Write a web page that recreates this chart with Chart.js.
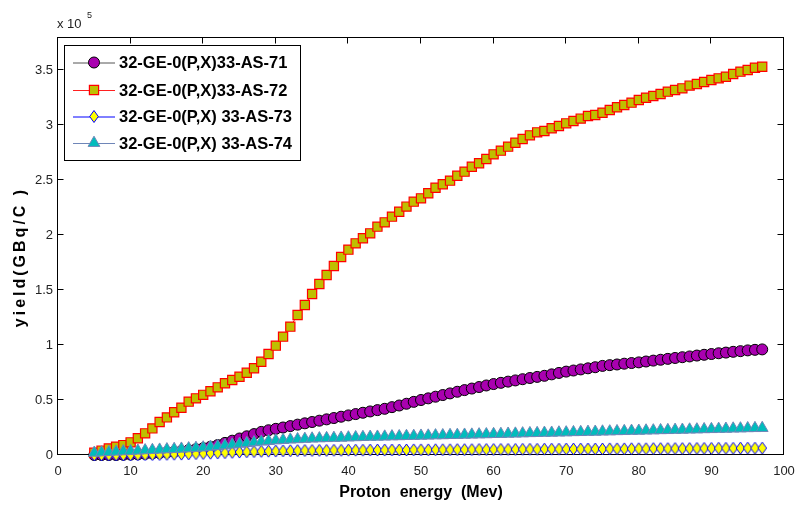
<!DOCTYPE html>
<html><head><meta charset="utf-8">
<script src="https://cdn.jsdelivr.net/npm/chart.js@4"></script>
<style>html,body{margin:0;padding:0;background:#fff;}#wrap{width:798px;height:507px;}</style>
</head><body><div id="wrap"><canvas id="c" width="798" height="507"></canvas></div>
<script>
// Proton energy (MeV)
const energy = [5,6,7,8,9,10,11,12,13,14,15,16,17,18,19,20,21,22,23,24,25,26,27,28,29,30,31,32,33,34,35,36,37,38,39,40,41,42,43,44,45,46,47,48,49,50,51,52,53,54,55,56,57,58,59,60,61,62,63,64,65,66,67,68,69,70,71,72,73,74,75,76,77,78,79,80,81,82,83,84,85,86,87,88,89,90,91,92,93,94,95,96,97];
// yield, in units of 10^5 GBq/C
const as71 = [0,0,0,0,0.002,0.004,0.006,0.01,0.014,0.018,0.024,0.03,0.037,0.045,0.053,0.062,0.075,0.09,0.11,0.13,0.15,0.17,0.19,0.21,0.225,0.238,0.25,0.263,0.276,0.288,0.30,0.312,0.324,0.336,0.348,0.36,0.372,0.384,0.396,0.408,0.42,0.435,0.45,0.466,0.483,0.50,0.515,0.53,0.545,0.56,0.575,0.59,0.604,0.618,0.632,0.645,0.656,0.667,0.678,0.689,0.70,0.71,0.72,0.733,0.746,0.758,0.768,0.778,0.788,0.798,0.81,0.817,0.823,0.83,0.836,0.842,0.85,0.858,0.866,0.874,0.882,0.889,0.896,0.904,0.911,0.918,0.925,0.931,0.938,0.944,0.951,0.956,0.96];
const as72 = [0.02,0.04,0.06,0.076,0.09,0.115,0.152,0.197,0.242,0.30,0.342,0.388,0.43,0.485,0.515,0.547,0.58,0.615,0.652,0.682,0.712,0.748,0.788,0.848,0.918,0.994,1.076,1.167,1.273,1.364,1.464,1.555,1.636,1.718,1.80,1.867,1.924,1.97,2.015,2.076,2.115,2.167,2.212,2.258,2.303,2.333,2.379,2.43,2.461,2.494,2.539,2.576,2.621,2.652,2.691,2.733,2.767,2.803,2.839,2.873,2.906,2.933,2.945,2.97,2.991,3.015,3.036,3.058,3.082,3.091,3.112,3.136,3.161,3.182,3.203,3.227,3.248,3.264,3.282,3.303,3.318,3.333,3.358,3.373,3.391,3.409,3.424,3.439,3.464,3.485,3.50,3.521,3.53];
const as73 = [0,0,0,0,0,0.001,0.002,0.003,0.004,0.005,0.006,0.007,0.008,0.01,0.012,0.014,0.016,0.018,0.021,0.024,0.027,0.029,0.031,0.033,0.035,0.036,0.038,0.039,0.04,0.041,0.041,0.042,0.042,0.043,0.043,0.044,0.044,0.044,0.045,0.045,0.045,0.046,0.046,0.046,0.047,0.047,0.047,0.048,0.048,0.048,0.049,0.049,0.049,0.05,0.05,0.05,0.051,0.051,0.051,0.052,0.052,0.052,0.053,0.053,0.053,0.054,0.054,0.054,0.055,0.055,0.055,0.056,0.056,0.056,0.057,0.057,0.057,0.058,0.058,0.058,0.059,0.059,0.059,0.06,0.06,0.06,0.061,0.061,0.061,0.062,0.062,0.062,0.063];
const as74 = [0.02,0.023,0.026,0.03,0.033,0.036,0.039,0.042,0.045,0.048,0.051,0.054,0.057,0.06,0.064,0.068,0.074,0.08,0.087,0.094,0.101,0.108,0.115,0.121,0.127,0.132,0.136,0.14,0.143,0.146,0.149,0.151,0.153,0.155,0.157,0.159,0.161,0.163,0.165,0.166,0.167,0.169,0.17,0.172,0.173,0.175,0.176,0.178,0.179,0.181,0.182,0.184,0.185,0.187,0.188,0.19,0.191,0.193,0.194,0.196,0.198,0.199,0.201,0.202,0.204,0.205,0.207,0.208,0.21,0.211,0.213,0.214,0.216,0.217,0.219,0.22,0.222,0.223,0.225,0.226,0.228,0.229,0.231,0.232,0.234,0.235,0.237,0.238,0.24,0.241,0.243,0.244,0.245];
const seriesNames = ['32-GE-0(P,X)33-AS-71','32-GE-0(P,X)33-AS-72','32-GE-0(P,X) 33-AS-73','32-GE-0(P,X) 33-AS-74'];
const xTicks = [0,10,20,30,40,50,60,70,80,90,100];
const yTicks = [0,0.5,1,1.5,2,2.5,3,3.5];
const xTitle = 'Proton  energy  (Mev)';
const yTitle = 'yield(GBq/C )';
const yExponent = '5';

const FONT = '"Liberation Sans", Arial, Helvetica, sans-serif';

const styles = [
  {line:'#555555', fill:'#a900b0', edge:'#000000', shape:'circle', r:5.5, bw:1},
  {line:'#ff2020', fill:'#bfbf00', edge:'#ff0000', shape:'rect', r:6.5, bw:1.2},
  {line:'#0000ff', fill:'#ffff00', edge:'#0000ff', shape:'diamond', rx:4.3, ry:6, bw:1},
  {line:'#6f86b8', fill:'#00bcbc', edge:'#6f86b8', shape:'triangle', r:6.8, bw:1}
];
const seriesData = [as71, as72, as73, as74];

function markerPath(ctx, s, x, y){
  ctx.beginPath();
  if (s.shape === 'circle') { ctx.arc(x, y, s.r, 0, Math.PI*2); }
  else if (s.shape === 'rect') { const h = s.r*Math.SQRT1_2; ctx.rect(x-h, y-h, 2*h, 2*h); }
  else if (s.shape === 'diamond') { ctx.moveTo(x, y-s.ry); ctx.lineTo(x+s.rx, y); ctx.lineTo(x, y+s.ry); ctx.lineTo(x-s.rx, y); ctx.closePath(); }
  else { const r = s.r; ctx.moveTo(x, y-r); ctx.lineTo(x+r*0.866, y+r*0.5); ctx.lineTo(x-r*0.866, y+r*0.5); ctx.closePath(); }
}
function drawMarker(ctx, s, x, y){
  ctx.save();
  ctx.fillStyle = s.fill; ctx.strokeStyle = s.edge; ctx.lineWidth = s.bw;
  markerPath(ctx, s, x, y);
  ctx.fill(); ctx.stroke();
  ctx.restore();
}
// tall diamond marker image (MATLAB-like)
function diamondImage(s){
  const c = document.createElement('canvas');
  const w = Math.ceil(2*s.rx + 2), h = Math.ceil(2*s.ry + 2);
  c.width = w; c.height = h;
  drawMarker(c.getContext('2d'), s, w/2, h/2);
  return c;
}

const frame = {
  id: 'frame',
  beforeDatasetsDraw(chart){
    const {ctx, chartArea:a, scales:{x, y}} = chart;
    ctx.save();
    ctx.strokeStyle = '#000'; ctx.lineWidth = 1;
    const L = Math.round(a.left)-0.5, R = Math.round(a.right)-0.5, T = Math.round(a.top)+0.5, B = Math.round(a.bottom)-0.5;
    ctx.strokeRect(L, T, R-L, B-T);
    ctx.beginPath();
    xTicks.forEach(v => { const p = Math.round(x.getPixelForValue(v))-0.5; ctx.moveTo(p, B); ctx.lineTo(p, B-6); ctx.moveTo(p, T); ctx.lineTo(p, T+6); });
    yTicks.forEach(v => { const p = Math.round(y.getPixelForValue(v))-0.5; ctx.moveTo(L, p); ctx.lineTo(L+6, p); ctx.moveTo(R, p); ctx.lineTo(R-6, p); });
    ctx.stroke();
    ctx.restore();
  },
  afterDatasetsDraw(chart){
    const ctx = chart.ctx;
    ctx.save();
    // legend box
    ctx.fillStyle = '#fff'; ctx.strokeStyle = '#000'; ctx.lineWidth = 1;
    ctx.fillRect(64.5, 45.5, 236, 115); ctx.strokeRect(64.5, 45.5, 236, 115);
    const rows = [62.5, 90, 116.5, 143];
    seriesNames.forEach((name, i) => {
      const s = styles[i], yy = rows[i];
      ctx.strokeStyle = s.line; ctx.lineWidth = 1;
      ctx.beginPath(); ctx.moveTo(73, yy+0.5); ctx.lineTo(115, yy+0.5); ctx.stroke();
      drawMarker(ctx, s, 94, yy);
      ctx.fillStyle = '#000'; ctx.font = 'bold 16.5px ' + FONT;
      ctx.textAlign = 'left'; ctx.textBaseline = 'middle';
      ctx.fillText(name, 119, yy+1);
    });
    ctx.restore();
  },
  afterDraw(chart){
    const {ctx, chartArea:a} = chart;
    ctx.save();
    ctx.fillStyle = '#000';
    // x title
    ctx.font = 'bold 16px ' + FONT; ctx.textAlign = 'center'; ctx.textBaseline = 'alphabetic';
    ctx.fillText(xTitle, (a.left + a.right)/2, 497);
    // y title
    ctx.save();
    ctx.translate(25, 257); ctx.rotate(-Math.PI/2);
    ctx.letterSpacing = '3px';
    ctx.fillText(yTitle, 0, 0);
    ctx.restore();
    // exponent
    ctx.fillStyle = '#222';
    ctx.font = '13px ' + FONT; ctx.textAlign = 'left';
    ctx.fillText('x 10', 57, 28);
    ctx.font = '9px ' + FONT;
    ctx.fillText(yExponent, 87, 18);
    ctx.restore();
  }
};

const datasets = seriesData.map((d, i) => {
  const s = styles[i];
  const isImg = s.shape === 'diamond';
  return {
    label: seriesNames[i],
    data: d,
    borderColor: s.line,
    borderWidth: 1,
    backgroundColor: s.fill,
    pointStyle: isImg ? diamondImage(s) : s.shape,
    pointRadius: isImg ? 6 : s.r,
    pointBackgroundColor: s.fill,
    pointBorderColor: s.edge,
    pointBorderWidth: s.bw,
    fill: false,
    tension: 0,
    clip: false,
    order: 4 - i
  };
});

new Chart(document.getElementById('c'), {
  type: 'line',
  data: { labels: energy, datasets },
  options: {
    responsive: false,
    animation: false,
    devicePixelRatio: 1,
    layout: { padding: { left: 0, right: 14, top: 37, bottom: 0 } },
    plugins: { legend: { display: false }, tooltip: { enabled: false } },
    scales: {
      x: {
        type: 'linear', min: 0, max: 100,
        grid: { display: false, drawTicks: false },
        border: { display: false },
        afterFit: s => { s.height = 52; s.paddingLeft = 0; s.paddingRight = 0; },
        afterBuildTicks: s => { s.ticks = xTicks.map(v => ({ value: v })); },
        ticks: { padding: 9, color: '#222', font: { family: FONT, size: 13 }, maxRotation: 0, autoSkip: false }
      },
      y: {
        type: 'linear', min: 0, max: 3.8,
        grid: { display: false, drawTicks: false },
        border: { display: false },
        afterFit: s => { s.width = 58; s.paddingTop = 0; s.paddingBottom = 0; },
        afterBuildTicks: s => { s.ticks = yTicks.map(v => ({ value: v })); },
        ticks: { padding: 5, color: '#222', font: { family: FONT, size: 13 }, autoSkip: false, callback: v => String(v) }
      }
    }
  },
  plugins: [frame]
});
</script>
</body></html>
